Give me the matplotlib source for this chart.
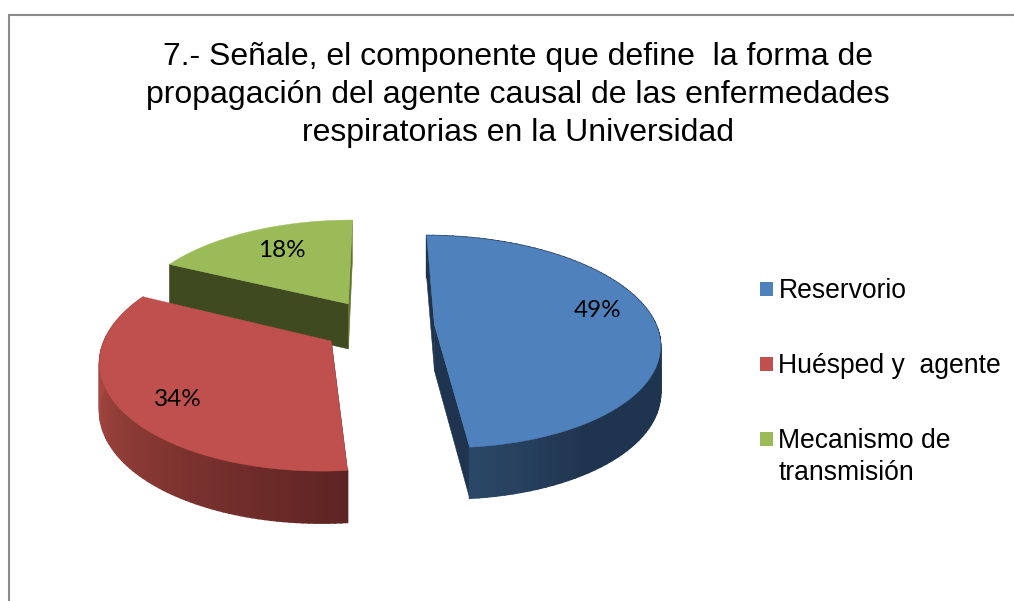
import numpy as np
import matplotlib
matplotlib.use("Agg")
import matplotlib.pyplot as plt
from matplotlib.colors import to_rgb

# ---- data ----
title_lines = ["7.- Señale, el componente que define  la forma de",
               "propagación del agente causal de las enfermedades",
               "respiratorias en la Universidad"]
categories = ["Reservorio", "Huésped y  agente", "Mecanismo de\ntransmisión"]
values = [49, 34, 18]
colors = ["#4f81bd", "#c0504d", "#9bbb59"]

# ---- projection / layout ----
CX, CY = 378.0, 326.0
A, B, K = 222.0, 103.8, 0.16
DEPTH, KD = 46.0, 0.10
explode = [0.255, 0.25, 0.26]
START = 0.0
label_radius = [0.77, 0.78, 0.70]
label_angle_shift = [-8.0, -4.5, 2.0]


def project(X, Y, z=0.0):
    X, Y = np.asarray(X, float), np.asarray(Y, float)
    w = 1 + K * Y
    return CX + A * X / w, CY - B * Y / w + z * DEPTH / (1 + KD * Y)


def mix(c1, c2, t):
    a, b = np.array(to_rgb(c1)), np.array(to_rgb(c2))
    return tuple(a + (b - a) * t)


fig = plt.figure(figsize=(10.14, 6.01), dpi=100, facecolor="white")
ax = fig.add_axes([0, 0, 1, 1])
ax.set_xlim(0, 1014)
ax.set_ylim(601, 0)
ax.axis("off")

# chart frame (only top and left edges fall inside the picture)
ax.plot([8.5, 8.5, 1014], [601, 14.5, 14.5], color="#8c8c8c", lw=1.5, solid_joinstyle="miter")

total = float(sum(values))
spans = [v / total * 360 for v in values]
starts = list(START + np.cumsum([0] + spans[:-1]))

slices = []
for val, s, st, col, ex in zip(values, spans, starts, colors, explode):
    mid = np.radians(st + s / 2)
    ox, oy = ex * np.sin(mid), ex * np.cos(mid)
    th = np.radians(np.linspace(st, st + s, 90))
    slices.append(dict(val=val, th=th, ox=ox, oy=oy, col=col, mid=mid))


def radial_wall(sl, theta, color, zo):
    ex, ey = sl["ox"] + np.sin(theta), sl["oy"] + np.cos(theta)
    x0, y0 = project(sl["ox"], sl["oy"])
    x1, y1 = project(ex, ey)
    x2, y2 = project(ex, ey, 1)
    x3, y3 = project(sl["ox"], sl["oy"], 1)
    ax.fill([x0, x1, x2, x3], [y0, y1, y2, y3], color=color, lw=0.4, zorder=zo)


def outer_wall(sl, shade, zo):
    th = sl["th"]
    X, Y = sl["ox"] + np.sin(th), sl["oy"] + np.cos(th)
    xt, yt = project(X, Y)
    xb, yb = project(X, Y, 1)
    for i in range(len(th) - 1):
        c = shade(np.degrees(th[i]))
        ax.fill([xt[i], xt[i + 1], xb[i + 1], xb[i]], [yt[i], yt[i + 1], yb[i + 1], yb[i]],
                color=c, lw=1.2, zorder=zo)


def top_face(sl, zo):
    th = sl["th"]
    X = np.r_[sl["ox"], sl["ox"] + np.sin(th)]
    Y = np.r_[sl["oy"], sl["oy"] + np.cos(th)]
    x, y = project(X, Y)
    ax.fill(x, y, color=sl["col"], lw=0.3, zorder=zo)


blue, red, green = slices


def blue_shade(d):
    return mix("#2c4969", "#1f344e", np.clip((175 - d) / 30, 0, 1))


def red_shade(d):
    return mix("#5e2423", "#a5473f", np.clip((d - 175) / 85, 0, 1))


# green sits behind, red in front of it, blue alone
radial_wall(green, green["th"][0], "#3f4a20", 2)
radial_wall(green, green["th"][-1], "#5f7530", 2)
top_face(green, 3)

radial_wall(red, red["th"][0], "#5e2423", 4)
outer_wall(red, red_shade, 4)
top_face(red, 5)

radial_wall(blue, blue["th"][0], "#1f344e", 4)
radial_wall(blue, blue["th"][-1], "#1f344e", 4)
outer_wall(blue, blue_shade, 4)
top_face(blue, 5)

# percentage labels
for sl, r, da in zip(slices, label_radius, label_angle_shift):
    a = sl["mid"] + np.radians(da)
    lx, ly = project(sl["ox"] + r * np.sin(a), sl["oy"] + r * np.cos(a))
    ax.text(lx, ly, f"{sl['val']}%", ha="center", va="center", fontsize=17.5,
            family="Lato", color="black", zorder=8)

# title
for i, line in enumerate(title_lines):
    ax.text(518, 57 + 38 * i, line, ha="center", va="center", fontsize=23.05,
            family="Liberation Sans", color="black")

# legend
legend_y = [289, 364, 439]
for cat, col, y in zip(categories, colors, legend_y):
    ax.fill([760, 773, 773, 760], [y - 7, y - 7, y + 7, y + 7], color=col, lw=0)
    ax.text(778.5, y - 11, cat, ha="left", va="top", fontsize=19.1, linespacing=1.28,
            family="Liberation Sans", color="black")

fig.savefig("out.png", dpi=100, facecolor="white")
